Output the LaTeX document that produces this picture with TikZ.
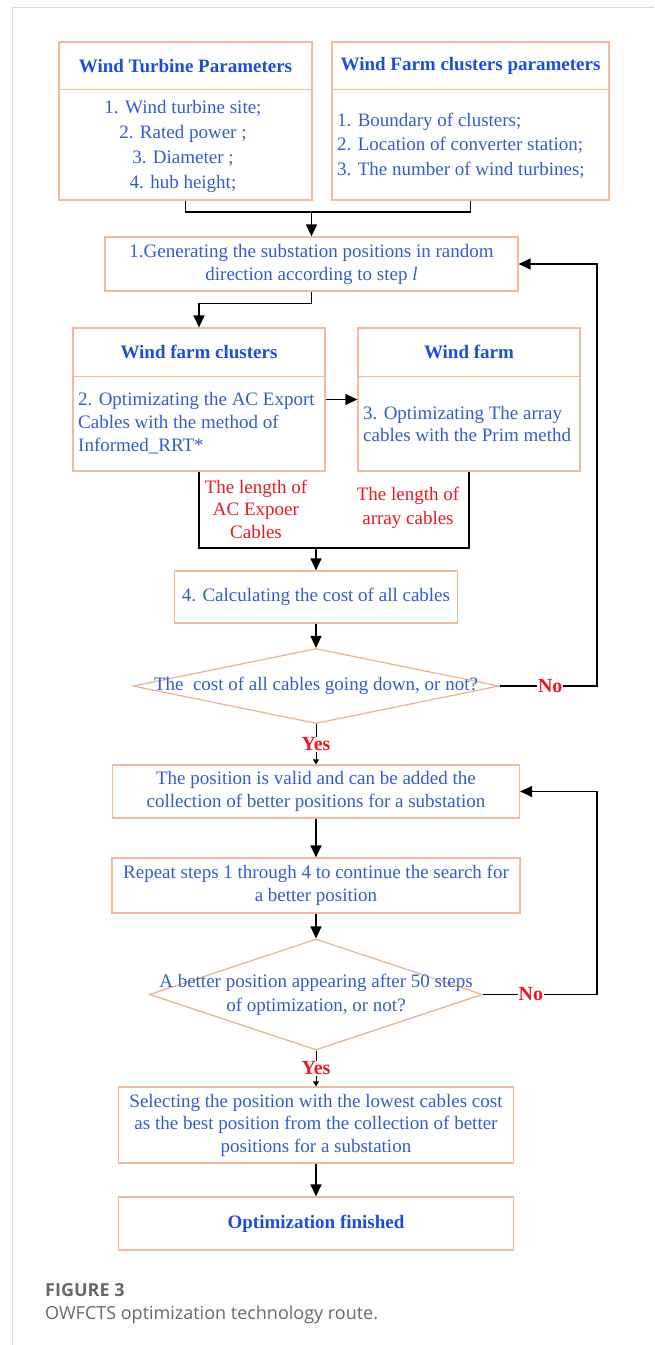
\documentclass[tikz,border=0pt]{standalone}
\usepackage{fontspec}
\setmainfont{Liberation Serif}
\newfontfamily\capfont{Open Sans}
\usetikzlibrary{arrows.meta,shapes.geometric}
\definecolor{peach}{RGB}{240,188,158}
\definecolor{diapeach}{RGB}{232,178,145}
\definecolor{bodyblue}{RGB}{52,92,205}
\definecolor{headblue}{RGB}{28,78,215}
\definecolor{redc}{RGB}{235,25,35}
\definecolor{framec}{RGB}{218,218,218}
\definecolor{capgray}{RGB}{105,105,105}
\newcommand\bodyfs{\fontsize{19}{23}\selectfont}
\newcommand\headfs{\fontsize{19}{23}\selectfont\bfseries}
\tikzset{
  box/.style={draw=peach, line width=1.3pt, inner sep=0pt, text=bodyblue, align=center, font=\bodyfs},
  dia/.style={draw=diapeach, line width=1.2pt, diamond, inner sep=0pt},
  txt/.style={text=bodyblue, inner sep=0pt, font=\bodyfs},
  head/.style={text=headblue, inner sep=0pt, font=\headfs},
  redtxt/.style={text=redc, inner sep=0pt, align=center, font=\fontsize{19}{23}\selectfont},
  lbl/.style={fill=white, text=redc, inner sep=1pt, font=\fontsize{20}{22}\selectfont\bfseries},
  conn/.style={draw=black, line width=1.4pt},
  arr/.style={draw=black, line width=1.4pt, -{Triangle[length=12pt,width=11pt]}},
  arrs/.style={draw=black, line width=1pt, -{Triangle[length=5pt,width=6pt]}},
}
\begin{document}
\begin{tikzpicture}[x=1pt,y=-1pt]
\useasboundingbox (0,0) rectangle (654,1345);
% page frame
\draw[framec, line width=1pt] (654,7) -- (12,7) -- (12,1345);

% top parameter boxes
\node[box, minimum width=253pt, minimum height=158pt] (wtp) at (185.5,121) {};
\draw[peach, line width=1.3pt] ([yshift=-48pt]wtp.north west) -- ([yshift=-48pt]wtp.north east);
\node[head] (wtph) at (185.5,66) {Wind Turbine Parameters};
\node[txt, align=center, font=\fontsize{19}{25}\selectfont] (wtpl) at (183,146.5)
  {1. Wind turbine site;\\2. Rated power ;\\3. Diameter ;\\4. hub height;};

\node[box, minimum width=277pt, minimum height=158pt] (wfcp) at (470.5,121) {};
\draw[peach, line width=1.3pt] ([yshift=-48pt]wfcp.north west) -- ([yshift=-48pt]wfcp.north east);
\node[head] (wfcph) at (470.5,66) {Wind Farm clusters parameters};
\node[txt, align=left, anchor=west, font=\fontsize{19}{24.5}\selectfont] (wfcpl) at (337,145.5)
  {1. Boundary of clusters;\\2. Location of converter station;\\3. The number of wind turbines;};

% step 1
\node[box, minimum width=413pt, minimum height=54pt] (b1) at (311.5,264)
  {1.Generating the substation positions in random\\direction according to step \textit{l}};

% cluster boxes
\node[box, minimum width=252pt, minimum height=143pt] (wfc) at (199,399.5) {};
\draw[peach, line width=1.3pt] ([yshift=-49pt]wfc.north west) -- ([yshift=-49pt]wfc.north east);
\node[head] (wfch) at (199,352) {Wind farm clusters};
\node[txt, align=left, anchor=west] (wfcl) at (78,423)
  {2. Optimizating the AC Export\\Cables with the method of\\Informed\_RRT*};

\node[box, minimum width=222pt, minimum height=143pt] (wf) at (469,399.5) {};
\draw[peach, line width=1.3pt] ([yshift=-49pt]wf.north west) -- ([yshift=-49pt]wf.north east);
\node[head] (wfh) at (469,352) {Wind farm};
\node[txt, align=left, anchor=west, font=\fontsize{19}{22}\selectfont] (wfl) at (363,424)
  {3. Optimizating The array\\cables with the Prim methd};

\node[redtxt, font=\fontsize{19}{22.5}\selectfont] (lenac) at (256,509) {The length of\\AC Expoer\\Cables};
\node[redtxt, font=\fontsize{19}{24}\selectfont] (lenarr) at (408,508) {The length of\\array cables};

% step 4 and decisions
\node[box, minimum width=283pt, minimum height=52pt] (b4) at (316,597) {4. Calculating the cost of all cables};
\node[dia, minimum width=366pt, minimum height=75pt] (d1) at (316,686) {};
\node[txt] (d1t) at (316,686) {The\ \ cost of all cables going down, or not?};

\node[box, minimum width=407pt, minimum height=53pt] (b5) at (316,791.5)
  {The position is valid and can be added the\\collection of better positions for a substation};
\node[box, minimum width=408pt, minimum height=55pt] (b6) at (316,885.5)
  {Repeat steps 1 through 4 to continue the search for\\a better position};
\node[dia, minimum width=333pt, minimum height=111pt] (d2) at (316,994.5) {};
\node[txt, align=center, font=\fontsize{19}{24}\selectfont] (d2t) at (316,995)
  {A better position appearing after 50 steps\\of optimization, or not?};

\node[box, minimum width=395pt, minimum height=76pt, font=\fontsize{19}{22.5}\selectfont] (b7) at (316,1125)
  {Selecting the position with the lowest cables cost\\as the best position from the collection of better\\positions for a substation};
\node[box, minimum width=395pt, minimum height=53pt, text=headblue, font=\headfs] (b8) at (316,1223.5)
  {Optimization finished};

% caption
\node[anchor=west, inner sep=0pt, text=capgray, font=\capfont\fontsize{18}{22}\selectfont\bfseries] (fig) at (45,1290) {FIGURE 3};
\node[anchor=west, inner sep=0pt, text=capgray, font=\capfont\fontsize{18}{22}\selectfont] (cap) at (45,1315) {OWFCTS optimization technology route.};

% connectors
\coordinate (j1) at (311.5,212);
\draw[conn] (wtp.south) |- (j1) -| (wfcp.south);
\draw[arr] (j1) -- (b1.north);
\draw[arr] (b1.south) -- ++(0,12) -| (wfc.north);
\draw[arr] (wfc.east) -- (wf.west);
\coordinate (j3) at (316,548);
\draw[conn] (wfc.south) |- (j3) -| (wf.south);
\draw[arr] (j3) -- (b4.north);
\draw[arr] (b4.south) -- (d1.north);
\draw[arrs] (d1.south) -- node[lbl] (yes1) {Yes} (b5.north);
\draw[arr] (b5.south) -- (b6.north);
\draw[arr] (b6.south) -- (d2.north);
\draw[arrs] (d2.south) -- node[lbl] (yes2) {Yes} (b7.north);
\draw[arr] (b7.south) -- (b8.north);
\coordinate (fb1) at (597,686);
\draw[arr] (d1.east) -- node[lbl, pos=0.52] (no1) {No} (fb1) |- (b1.east);
\coordinate (fb2) at (597,994.5);
\draw[arr] (d2.east) -- node[lbl, pos=0.42] (no2) {No} (fb2) |- (b5.east);
\end{tikzpicture}
\end{document}
